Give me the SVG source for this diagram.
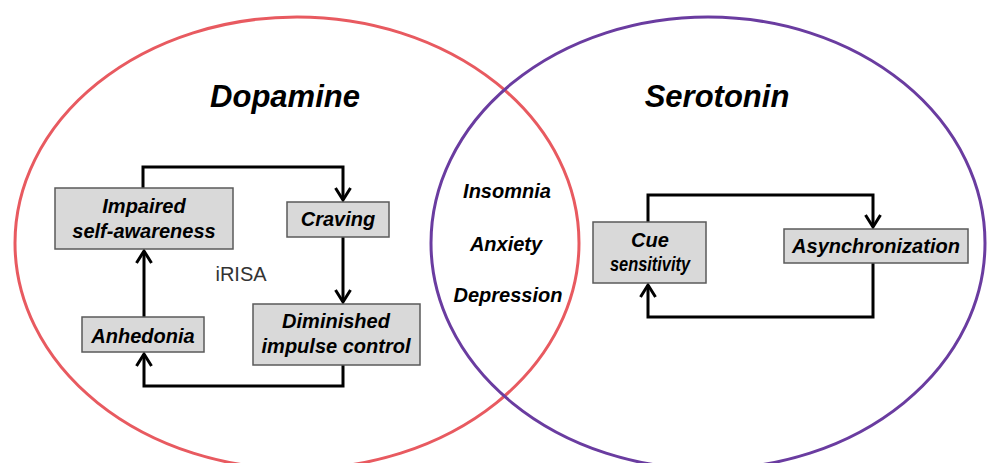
<svg xmlns="http://www.w3.org/2000/svg" width="987" height="463" viewBox="0 0 987 463">
<style>
.box{fill:#d9d9d9;stroke:#5a5a5a;stroke-width:1.5}
.t{font-family:"Liberation Sans",Arial,sans-serif;font-weight:bold;font-style:italic;font-size:20px;fill:#000;text-anchor:middle}
.title{font-family:"Liberation Sans",Arial,sans-serif;font-weight:bold;font-style:italic;font-size:31px;fill:#000;text-anchor:middle}
.mid{font-family:"Liberation Sans",Arial,sans-serif;font-weight:bold;font-style:italic;font-size:20px;fill:#000;text-anchor:middle}
.conn{fill:none;stroke:#000;stroke-width:3;stroke-linejoin:miter;marker-end:url(#arr)}
</style>
<defs>
<marker id="arr" markerUnits="userSpaceOnUse" markerWidth="30" markerHeight="30" refX="0" refY="0" viewBox="-15 -15 30 30" orient="auto" overflow="visible">
<path d="M-12,-7.5 L0,0 L-12,7.5" fill="none" stroke="#000" stroke-width="3"/>
</marker>
</defs>
<rect width="987" height="463" fill="#fff"/>
<g id="circles">
<ellipse id="dopamine-circle" cx="297" cy="243" rx="282" ry="226" fill="none" stroke="#e85a60" stroke-width="3"/>
<ellipse id="serotonin-circle" cx="708" cy="243" rx="277" ry="226" fill="none" stroke="#6a3ca0" stroke-width="3"/>
</g>
<g id="titles">
<text class="title" x="285" y="107">Dopamine</text>
<text class="title" x="717" y="107">Serotonin</text>
</g>
<g id="shared">
<text class="mid" x="507" y="198">Insomnia</text>
<text class="mid" x="506" y="251">Anxiety</text>
<text class="mid" x="508" y="302">Depression</text>
</g>
<g id="connectors">
<path class="conn" d="M143,188 V167 H343 V200"/>
<path class="conn" d="M343,237 V302"/>
<path class="conn" d="M343,365 V386 H144 V354"/>
<path class="conn" d="M144,317 V251"/>
<path class="conn" d="M648,222 V195 H873 V227"/>
<path class="conn" d="M873,263 V317 H648 V285"/>
</g>
<g id="impaired">
<rect class="box" x="55" y="188" width="178" height="61"/>
<text class="t" x="144" y="213">Impaired</text>
<text class="t" x="144" y="238">self-awareness</text>
</g>
<g id="craving">
<rect class="box" x="287" y="202" width="102" height="35"/>
<text class="t" x="338" y="226">Craving</text>
</g>
<g id="diminished">
<rect class="box" x="253" y="304" width="167" height="61"/>
<text class="t" x="336" y="328">Diminished</text>
<text class="t" x="336" y="353">impulse control</text>
</g>
<g id="anhedonia">
<rect class="box" x="82" y="317" width="122" height="35"/>
<text class="t" x="143" y="343">Anhedonia</text>
</g>
<g id="irisa">
<text x="241" y="281" font-family="&quot;Liberation Sans&quot;,Arial,sans-serif" font-size="20" fill="#333" text-anchor="middle">iRISA</text>
</g>
<g id="cue">
<rect class="box" x="593" y="222" width="113" height="61"/>
<text class="t" x="650" y="247">Cue</text>
<text class="t" transform="translate(650,271) scale(0.82,1)" x="0" y="0">sensitivity</text>
</g>
<g id="async">
<rect class="box" x="784" y="229" width="184" height="34"/>
<text class="t" x="876" y="253">Asynchronization</text>
</g>
</svg>
